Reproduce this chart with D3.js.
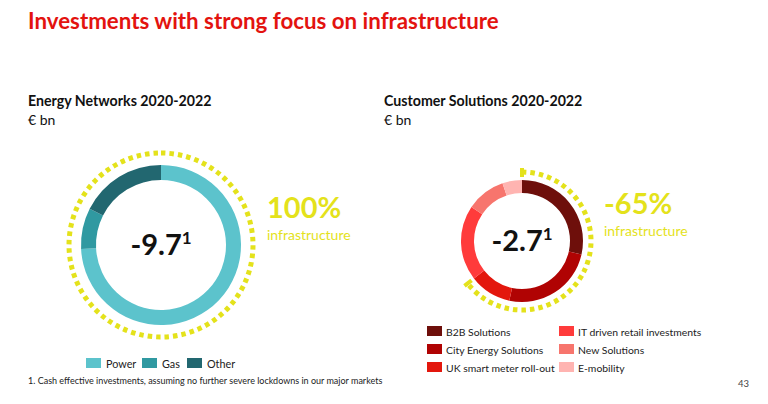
<!doctype html>
<html>
<head>
<meta charset="utf-8">
<script src="https://d3js.org/d3.v7.min.js"></script>
<style>
  body {margin: 0; background: #fff;}
  svg {display: block; font-family: Lato, "Open Sans", sans-serif;}
</style>
</head>
<body>
<svg width="768" height="404"></svg>
<script>
// data
var energyCats = ["Power", "Gas", "Other"];
var energyValues = [7.2, 0.8, 1.7];
var energyColors = ["#5cc3cc", "#3099a1", "#226770"];
var energyTotal = "-9.7";
var energyShare = "100%";

var customerCats = ["B2B Solutions", "City Energy Solutions", "UK smart meter roll-out",
                    "IT driven retail investments", "New Solutions", "E-mobility"];
var customerValues = [0.77, 0.67, 0.30, 0.54, 0.28, 0.14];
var customerColors = ["#6e0f0b", "#b00303", "#e3170d", "#ff3b3b", "#f7756d", "#ffb4b1"];
var customerInfra = 3; // first three segments count as infrastructure
var customerTotal = "-2.7";
var customerShare = "-65%";

var yellow = "#e4e21b";
var svg = d3.select("svg");

// title
svg.append("text").attr("x", 28).attr("y", 29)
   .attr("fill", "#e3130f").attr("font-weight", 700).attr("font-size", 22.3)
   .text("Investments with strong focus on infrastructure");

function donut(cx, cy, rOut, rIn, rDots, cats, values, colors, infraCount, total, share, shareX) {
    var g = svg.append("g").attr("transform", "translate(" + cx + "," + cy + ")");
    var pie = d3.pie().sort(null).value(function(d){return d});
    var arcs = pie(values);
    var arc = d3.arc().innerRadius(rIn).outerRadius(rOut);
    g.selectAll("path.seg")
      .data(arcs)
      .enter()
      .append("path")
        .attr("class", "seg")
        .attr("d", arc)
        .attr("fill", function(d, i){return colors[i]});

    // dotted infrastructure arc
    var endAngle = arcs[infraCount - 1].endAngle;
    var p = d3.path();
    p.arc(0, 0, rDots, -Math.PI / 2, -Math.PI / 2 + endAngle);
    g.append("path").attr("d", p.toString())
      .attr("fill", "none").attr("stroke", yellow)
      .attr("stroke-width", 5).attr("stroke-dasharray", "4.5,4");
    if (endAngle < 2 * Math.PI - 0.01) {
        [0, endAngle].forEach(function(a){
            g.append("line")
              .attr("x1", Math.sin(a) * (rDots - 5)).attr("y1", -Math.cos(a) * (rDots - 5))
              .attr("x2", Math.sin(a) * (rDots + 4)).attr("y2", -Math.cos(a) * (rDots + 4))
              .attr("stroke", yellow).attr("stroke-width", 4);
        });
    }

    // centre value
    var t = g.append("text").attr("text-anchor", "middle").attr("y", 10)
      .attr("font-weight", 700).attr("font-size", 29).attr("fill", "#111");
    t.append("tspan").text(total);
    t.append("tspan").attr("font-size", 17).attr("dy", -11).text("1");

    // share label
    svg.append("text").attr("x", shareX).attr("y", cy - 27)
      .attr("fill", yellow).attr("font-weight", 700).attr("font-size", 29).text(share);
    svg.append("text").attr("x", shareX).attr("y", cy - 5)
      .attr("fill", yellow).attr("font-size", 14).text("infrastructure");
}

// headings
svg.append("text").attr("x", 28).attr("y", 106).attr("font-weight", 700).attr("font-size", 14.2).attr("fill", "#111")
   .text("Energy Networks 2020-2022");
svg.append("text").attr("x", 28).attr("y", 125).attr("font-size", 14).attr("fill", "#111").text("€ bn");
svg.append("text").attr("x", 384).attr("y", 106).attr("font-weight", 700).attr("font-size", 14.2).attr("fill", "#111")
   .text("Customer Solutions 2020-2022");
svg.append("text").attr("x", 384).attr("y", 125).attr("font-size", 14).attr("fill", "#111").text("€ bn");

donut(161, 245, 80, 65, 92, energyCats, energyValues, energyColors, energyCats.length,
      energyTotal, energyShare, 267);
donut(522, 241, 61, 48, 69, customerCats, customerValues, customerColors, customerInfra,
      customerTotal, customerShare, 604);

// left legend
var legL = svg.append("g").attr("transform", "translate(86,358)");
var xs = d3.scaleOrdinal().domain(energyCats).range([0, 56, 101]);
legL.selectAll("rect").data(energyCats).enter().append("rect")
    .attr("x", function(d){return xs(d)}).attr("y", 0).attr("width", 15).attr("height", 10)
    .attr("fill", function(d, i){return energyColors[i]});
legL.selectAll("text").data(energyCats).enter().append("text")
    .attr("x", function(d){return xs(d) + 20}).attr("y", 9.5)
    .attr("font-size", 10.8).attr("fill", "#222").text(function(d){return d});

// right legend
var legR = svg.append("g").attr("transform", "translate(427,326)");
legR.selectAll("rect").data(customerCats).enter().append("rect")
    .attr("x", function(d, i){return i < 3 ? 0 : 132}).attr("y", function(d, i){return (i % 3) * 18})
    .attr("width", 15).attr("height", 10)
    .attr("fill", function(d, i){return customerColors[i]});
legR.selectAll("text").data(customerCats).enter().append("text")
    .attr("x", function(d, i){return (i < 3 ? 0 : 132) + 19}).attr("y", function(d, i){return (i % 3) * 18 + 9.5})
    .attr("font-size", 10.4).attr("fill", "#222").text(function(d){return d});

// footnote and page number
svg.append("text").attr("x", 28).attr("y", 384).attr("font-size", 9).attr("fill", "#222")
   .text("1. Cash effective investments, assuming no further severe lockdowns in our major markets");
svg.append("text").attr("x", 749).attr("y", 387).attr("text-anchor", "end").attr("font-size", 9.5).attr("fill", "#444")
   .text("43");
</script>
</body>
</html>
